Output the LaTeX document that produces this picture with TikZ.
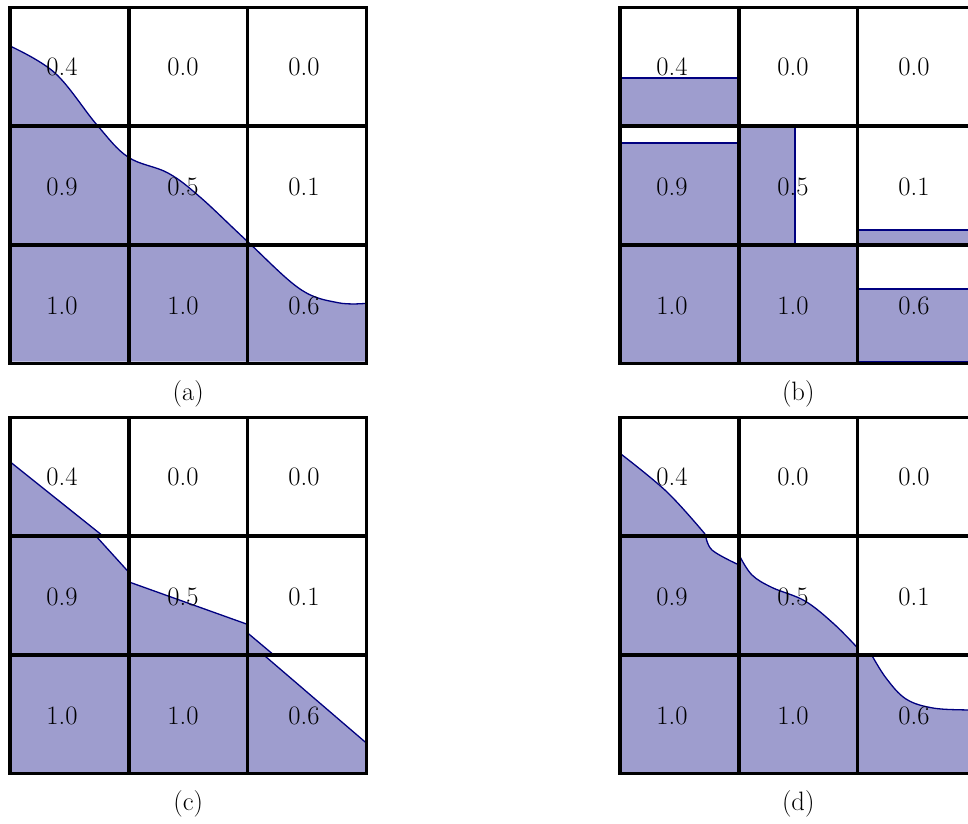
\documentclass[tikz,border=0pt]{standalone}
\definecolor{vofFill}{RGB}{158,157,206}
\definecolor{vofLine}{RGB}{0,0,128}
\begin{document}
\begin{tikzpicture}[x=1pt,y=-1pt,
  gridline/.style={line width=3.5pt, black},
  liquid/.style={fill=vofFill, draw=none},
  iface/.style={draw=vofLine, line width=1.3pt},
  val/.style={font=\fontsize{26.6}{32}\selectfont, inner sep=0pt},
  captext/.style={font=\fontsize{26.6}{32}\selectfont, inner sep=0pt, anchor=base}]
\clip (0,0) rectangle (968,823);
\fill[white] (0,0) rectangle (968,823);

% ---------- panel (a): smooth interface ----------
\def\curveA{(10,46) (55,73) (97,125) (128,157) (168,173) (200,197) (247,241) (300,289) (338,302.7) (366.7,303.3)}
\fill[liquid] plot[smooth, tension=0.6] coordinates {\curveA} -- (366.7,361.7) -- (10,361.7) -- cycle;
\draw[iface] plot[smooth, tension=0.6] coordinates {\curveA};

% ---------- panel (b): SLIC rectangles ----------
\fill[liquid] (620,361.7) rectangle (857.3,244.3);
\filldraw[liquid, iface] (620,78) rectangle (738.3,125);
\filldraw[liquid, iface] (620,143) rectangle (738.3,244.3);
\filldraw[liquid, iface] (738.3,125) rectangle (795,244.3);
\filldraw[liquid, iface] (857.3,230) rectangle (980,244.3);
\filldraw[liquid, iface] (857.3,289) rectangle (980,361.7);

% ---------- panel (c): PLIC segments ----------
\filldraw[liquid, iface] (10,461.7) -- (101.7,535) -- (10,535) -- cycle;
\fill[liquid] (95,535) -- (128.3,571.7) -- (128.3,654.3) -- (10,654.3) -- (10,535) -- cycle;
\draw[iface] (95,535) -- (128.3,571.7);
\fill[liquid] (128.3,581.7) -- (247.3,624.3) -- (247.3,654.3) -- (128.3,654.3) -- cycle;
\draw[iface] (128.3,581.7) -- (247.3,624.3);
\fill[liquid] (247.3,632.7) -- (273,654.3) -- (247.3,654.3) -- cycle;
\draw[iface] (247.3,632.7) -- (273,654.3);
\fill[liquid] (263,654.3) -- (366.7,743.3) -- (366.7,772.7) -- (10,772.7) -- (10,654.3) -- cycle;
\draw[iface] (263,654.3) -- (366.7,743.3);

% ---------- panel (d): smooth per-cell curves ----------
\def\curveDa{(620,453.3) (666.7,491.7) (705,534)}
\def\curveDb{(705.5,535) (712,550) (737,564)}
\def\curveDc{(740,556.7) (752,575) (772,587.5) (805,601) (834,624) (856.7,647)}
\def\curveDd{(871.7,655) (886,678) (906,699) (933,708) (968,710) (980,710)}
\fill[liquid] plot[smooth, tension=0.6] coordinates {\curveDa} -- (620,535) -- cycle;
\draw[iface] plot[smooth, tension=0.6] coordinates {\curveDa};
\fill[liquid] plot[smooth, tension=0.6] coordinates {\curveDb} -- (738.3,654.3) -- (620,654.3) -- (620,535) -- cycle;
\draw[iface] plot[smooth, tension=0.6] coordinates {\curveDb};
\fill[liquid] plot[smooth, tension=0.6] coordinates {\curveDc} -- (857.3,654.3) -- (738.3,654.3) -- cycle;
\draw[iface] plot[smooth, tension=0.6] coordinates {\curveDc};
\fill[liquid] plot[smooth, tension=0.6] coordinates {\curveDd} -- (980,772.7) -- (620,772.7) -- (620,654.3) -- cycle;
\draw[iface] plot[smooth, tension=0.6] coordinates {\curveDd};

% ---------- grids ----------
\foreach \ox/\oy in {10/7.3, 620/7.3, 10/417.3, 620/417.3} {
  \foreach \k in {1,2} {
    \draw[gridline] (\ox+\k*118.8,\oy) -- (\ox+\k*118.8,\oy+356.4);
    \draw[gridline] (\ox,\oy+\k*118.8) -- (\ox+356.4,\oy+\k*118.8);
  }
  \draw[gridline] (\ox,\oy) rectangle (\ox+356.4,\oy+356.4);
}

% ---------- volume fractions ----------
\foreach \p/\ox/\oy in {a/10/7.3, b/620/7.3, c/10/417.3, d/620/417.3} {
  \foreach \v [count=\i from 0] in {0.4,0.0,0.0,0.9,0.5,0.1,1.0,1.0,0.6} {
    \pgfmathtruncatemacro\rr{int(\i/3)}
    \pgfmathtruncatemacro\cc{mod(\i,3)}
    \node[val] (\p-\rr\cc) at (\ox+52+121*\cc, \oy+60+119.3*\rr) {\v};
  }
}

% ---------- captions ----------
\node[captext] (capa) at (188.2,400) {(a)};
\node[captext] (capb) at (798.2,400) {(b)};
\node[captext] (capc) at (188.2,810) {(c)};
\node[captext] (capd) at (798.2,810) {(d)};
\end{tikzpicture}
\end{document}
